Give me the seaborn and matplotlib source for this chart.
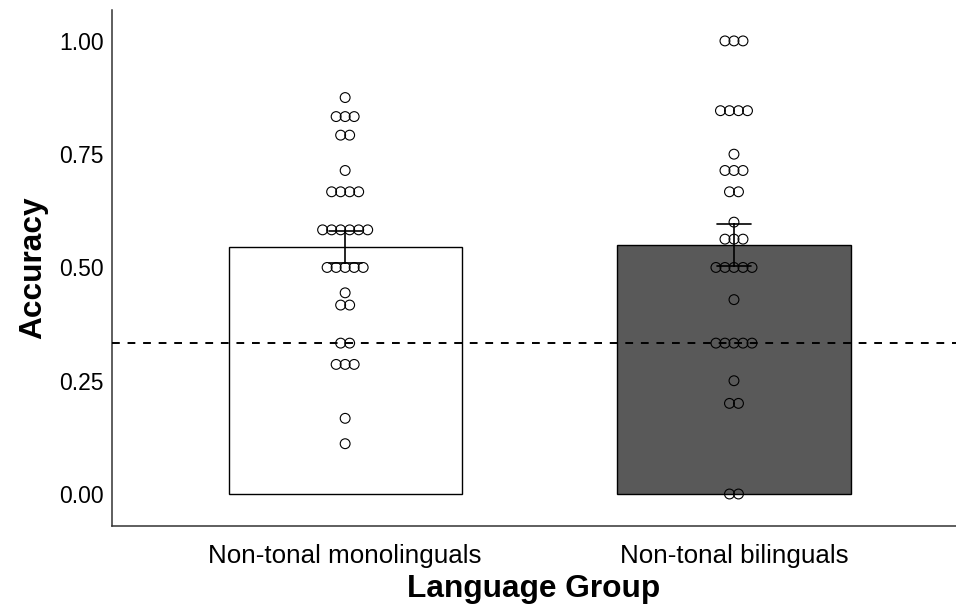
import numpy as np
import pandas as pd
import matplotlib
matplotlib.use("Agg")
import matplotlib.pyplot as plt
import seaborn as sns

groups = ["Non-tonal monolinguals", "Non-tonal bilinguals"]

# accuracy scores (value, count)
mono_values = [0.875, 0.833, 0.792, 0.714, 0.667, 0.583, 0.5, 0.444, 0.417, 0.333, 0.286, 0.167, 0.111]
mono_counts = [1, 3, 2, 1, 4, 6, 5, 1, 2, 2, 3, 1, 1]
bi_values = [1.0, 0.846, 0.75, 0.714, 0.667, 0.6, 0.5625, 0.5, 0.429, 0.333, 0.25, 0.2, 0.0]
bi_counts = [3, 4, 1, 3, 2, 1, 3, 5, 1, 5, 1, 2, 2]
chance = 1 / 3

rows = []
for g, vals, cnts in [(groups[0], mono_values, mono_counts), (groups[1], bi_values, bi_counts)]:
    for v, c in zip(vals, cnts):
        rows += [(g, v)] * c
df = pd.DataFrame(rows, columns=["group", "accuracy"])

# centred dot stacks like a dotplot
spacing = 0.0232
offsets = []
for (g, v), sub in df.groupby(["group", "accuracy"], sort=False):
    n = len(sub)
    offsets += list(groups.index(g) + (np.arange(n) - (n - 1) / 2) * spacing)
df["xpos"] = offsets

sns.set_style("white")
plt.rcParams["font.family"] = ["Liberation Sans", "DejaVu Sans"]

fig = plt.figure(figsize=(9.56, 6.05), dpi=100)
ax = fig.add_axes([0.117, 0.1306, 0.883, 0.853])

sns.barplot(data=df, x="group", y="accuracy", order=groups, hue="group",
            palette=["white", "#595959"], width=0.6, errorbar="se",
            capsize=0.085, err_kws={"color": "black", "linewidth": 1.2},
            edgecolor="black", linewidth=1.0, legend=False, ax=ax)
sns.scatterplot(data=df, x="xpos", y="accuracy", s=50, marker="o",
                facecolor="none", edgecolor="black", linewidth=0.8, ax=ax, zorder=3)
ax.axhline(chance, color="black", linestyle=(0, (4, 4)), linewidth=1.4, zorder=4)

ax.set_xlim(-0.6, 1.571)
ax.set_ylim(-0.0706, 1.0684)
ax.set_xticks([0, 1])
ax.set_xticklabels(groups)
ax.set_yticks([0, 0.25, 0.5, 0.75, 1.0])
ax.set_yticklabels(["0.00", "0.25", "0.50", "0.75", "1.00"])
ax.tick_params(axis="both", length=3, width=0.9, color="#333333",
               labelcolor="black", pad=3)
ax.tick_params(axis="y", labelsize=16.5)
ax.tick_params(axis="x", labelsize=18.7, pad=10)
ax.set_xlabel("Language Group", fontsize=22.8, fontweight="bold", color="black", labelpad=4)
ax.set_ylabel("Accuracy", fontsize=22.8, fontweight="bold", color="black", labelpad=8)

for side in ["top", "right"]:
    ax.spines[side].set_visible(False)
for side in ["left", "bottom"]:
    ax.spines[side].set_color("#333333")
    ax.spines[side].set_linewidth(1.1)

fig.savefig("out.png", dpi=100)
